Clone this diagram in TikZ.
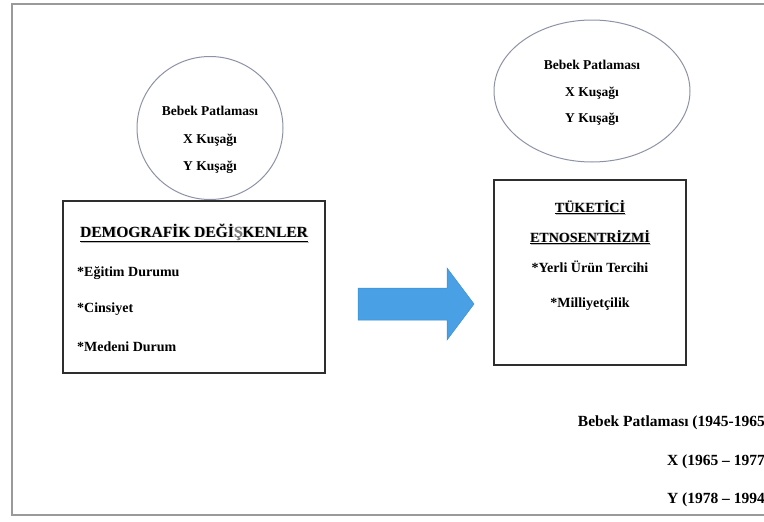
\documentclass[tikz,border=0pt]{standalone}
\usepackage{fontspec}
\setmainfont{Liberation Serif}
\usetikzlibrary{shapes.geometric}
\definecolor{ellc}{HTML}{8E92A6}
\definecolor{boxc}{HTML}{2E2E2E}
\definecolor{framec}{HTML}{9A9A9A}
\definecolor{arrowblue}{HTML}{4AA0E4}
\definecolor{arrowedge}{HTML}{3A8CD0}
\newcommand{\shtxt}[1]{\rlap{\hspace{0.9pt}\raisebox{-0.9pt}{\color{gray!55}#1}}#1}
\begin{document}
\begin{tikzpicture}[x=1pt,y=-1pt,
  ell/.style={draw=ellc, line width=1pt, ellipse, inner sep=0pt},
  elltxt/.style={font=\fontsize{13.5}{15}\selectfont\bfseries, inner sep=0pt, anchor=base},
  boxnode/.style={draw=boxc, line width=1.4pt, rectangle, inner sep=0pt},
  txt/.style={font=\fontsize{14}{16}\selectfont\bfseries, inner sep=0pt},
  ttl/.style={font=\fontsize{15.5}{17}\selectfont\bfseries, inner sep=0pt, anchor=base},
  leg/.style={font=\fontsize{15.5}{17}\selectfont\bfseries, inner sep=0pt, anchor=base east},
  bigarrow/.style={fill=arrowblue, draw=arrowedge, line width=0.5pt, line join=miter}
]
\useasboundingbox (0,0) rectangle (764,522);
\begin{scope}
\clip (0,0) rectangle (764,522);
\draw[framec, line width=1.3pt] (12,4) rectangle (820,515);

% ellipses
\node[ell, minimum width=146pt, minimum height=143pt] (e1) at (210,128) {};
\node[elltxt] (e1a) at (210,115) {Bebek Patlaması};
\node[elltxt] (e1b) at (210,143) {X Kuşağı};
\node[elltxt] (e1c) at (210,170) {Y Kuşağı};

\node[ell, minimum width=196pt, minimum height=142pt] (e2) at (592,91) {};
\node[elltxt] (e2a) at (592,69) {Bebek Patlaması};
\node[elltxt] (e2b) at (592,96) {X Kuşağı};
\node[elltxt] (e2c) at (592,122) {Y Kuşağı};

% left box
\node[boxnode, minimum width=262pt, minimum height=172pt] (b1) at (194,287) {};
\node[ttl] (t1) at (194,237) {\shtxt{\underline{DEMOGRAFİK DEĞİ{\color{gray}Ş}KENLER}}};
\node[txt, anchor=base west] (i1) at (77,276) {*Eğitim Durumu};
\node[txt, anchor=base west] (i2) at (77,312) {*Cinsiyet};
\node[txt, anchor=base west] (i3) at (77,351) {*Medeni Durum};

% right box
\node[boxnode, minimum width=192pt, minimum height=185pt] (b2) at (590,272.5) {};
\node[txt, anchor=base] (r1) at (590,212) {\shtxt{\underline{TÜKETİCİ}}};
\node[txt, anchor=base] (r2) at (590,242) {\shtxt{\underline{ETNOSENTRİZMİ}}};
\node[txt, anchor=base] (r3) at (590,272) {*Yerli Ürün Tercihi};
\node[txt, anchor=base] (r4) at (590,307) {*Milliyetçilik};

% arrow (block arrow between the boxes)
\coordinate (as) at (358,304);
\coordinate (at) at (474,304);
\draw[bigarrow] (358,288) -- (447,288) -- (447,268) -- (at) -- (447,340) -- (447,320) -- (358,320) -- cycle;

% bottom right legend
\node[leg] (l1) at (765,426) {Bebek Patlaması (1945-1965};
\node[leg] (l2) at (765,465) {X (1965 – 1977};
\node[leg] (l3) at (765,503) {Y (1978 – 1994};
\end{scope}
\end{tikzpicture}
\end{document}
